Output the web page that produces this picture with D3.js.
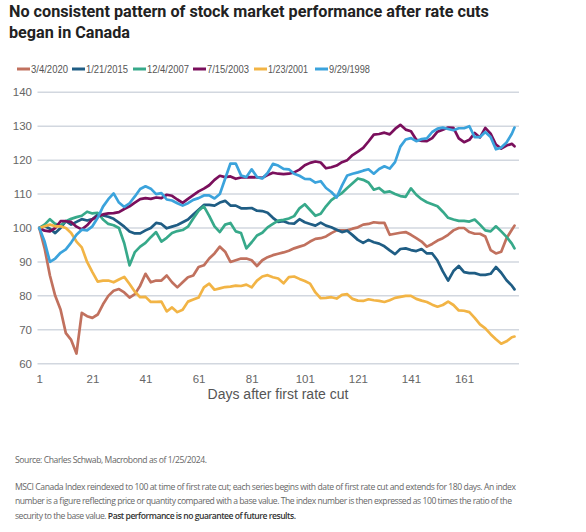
<!DOCTYPE html>
<html>
<head>
<meta charset="utf-8">
<script src="https://cdn.jsdelivr.net/npm/d3@7"></script>
<style>
  body { margin: 0; background: #fff; }
  svg { display: block; }
</style>
</head>
<body>
<div id="chart"></div>
<script>
// index values, every 2nd day from day 1, last point day 180
const days = d3.range(1, 180, 2).concat([180]);

const s2020 = [100, 94, 86, 80, 76, 69, 67, 63, 75, 74,
  73.5, 74.5, 77.5, 80, 81.5, 82, 81, 79.5, 80.5, 83,
  86.5, 84, 84.5, 84.5, 86, 84, 82.5, 84, 85.5, 86,
  88.5, 89, 91, 92.5, 94.5, 93, 90, 90.5, 91, 91,
  90.5, 88.8, 90.5, 91.4, 92, 92.4, 92.8, 93.3, 94, 94.5,
  95, 96, 96.8, 97, 97.5, 98.5, 99.3, 99.3, 99.3, 99.8,
  100.2, 101, 101.2, 101.7, 101.5, 101.5, 98, 98.3, 98.6, 98.8,
  98, 97, 96, 94.5, 95.3, 96.3, 97, 98, 99.3, 100,
  100, 98.8, 98.3, 98.3, 97.5, 93.5, 92.5, 93, 97, 99.5, 100.7];

const s2015 = [100, 100.6, 99.8, 98.5, 100, 102, 101, 101.8, 102.6, 102.2,
  102.6, 104, 103.7, 103.3, 102.7, 101.6, 100.4, 99, 98.4, 98.4,
  99.3, 100, 101.5, 101.2, 99.9, 100.4, 100.9, 101.7, 102.5, 104,
  105.4, 106.8, 106.8, 106.6, 107.5, 108, 106.6, 106.6, 105.8, 105.8,
  105.9, 105.1, 105, 104.5, 103, 101.8, 102, 101.4, 101.3, 102.6,
  101.7, 101.2, 100.7, 101.6, 100.7, 100.2, 99.5, 98.8, 99.2, 97.9,
  96.5, 95.6, 96.5, 95.8, 95.4, 94.6, 93.4, 92.3, 93.8, 94,
  93.5, 93.2, 93.8, 92.5, 92.5, 90.4, 87.2, 84.5, 87.3, 88.8,
  87, 86.7, 86.7, 86.2, 86.2, 86.5, 88.5, 86.8, 84.6, 83, 81.9];

const s2007 = [100, 101, 102.6, 101.2, 100.8, 102, 102.7, 103.2, 103.6, 104.8,
  104.3, 104.5, 102.5, 101.2, 100.8, 100, 95.5, 89, 92.9, 94.5,
  95.6, 97.3, 98.8, 96, 97.1, 98.5, 99.1, 99.4, 100.4, 102.8,
  105.1, 106.4, 103.6, 100.5, 98.8, 101, 101.5, 99, 98.5, 94,
  95.8, 97.8, 98.6, 100.2, 101.2, 102.2, 102.4, 102.8, 103.5, 105.8,
  107, 105.3, 103.6, 104.2, 106.4, 108.2, 109.3, 110.3, 111.8, 113.2,
  114.6, 114.2, 113.4, 111.3, 111.8, 110.5, 110.8, 110, 109.4, 109.2,
  111.7, 109.8, 108.5, 107.6, 107, 106.4, 104.8, 103, 102.5, 102.1,
  102.1, 101.9, 102.5, 101, 99.3, 99, 100.5, 99, 97.4, 95.4, 94];

const s2003 = [100, 99.2, 99, 100, 102, 102, 101.8, 100.4, 99.6, 100.8,
  102.6, 103.4, 104, 104.3, 104.4, 104.7, 105.6, 106.4, 107.5, 108.5,
  108.8, 108.6, 109, 108.8, 109.8, 109.5, 108.4, 107.4, 108.6, 109.7,
  110.8, 111.6, 112.6, 114.2, 115.4, 115, 115.2, 114.5, 114.9, 114.9,
  115, 114.9, 114.8, 115.6, 116.3, 116, 115.9, 116, 116.4, 117.2,
  118.5, 119.2, 119.6, 119.3, 117.6, 117.9, 118.4, 119.4, 120, 121.5,
  122.5, 123.6, 125.5, 127.5, 127.7, 128.1, 127.6, 129.2, 130.4, 129,
  128.5, 126, 125.7, 125.6, 126.5, 128.4, 129, 129.6, 129.5, 126.4,
  125.3, 126, 128, 126.7, 129.5, 127.8, 124.6, 123.4, 124.3, 124.8, 124.1];

const s2001 = [100, 100.5, 101, 100.5, 100.5, 100, 98.5, 96, 94.3, 90,
  87, 84.2, 84.5, 84.5, 84, 84.8, 85.6, 83.5, 81.2, 79.6,
  79.7, 78.2, 78.2, 78.3, 75.4, 76.6, 75.2, 75.9, 78.3, 78.9,
  79.5, 82.5, 83.6, 81.8, 82.2, 82.6, 82.7, 83, 82.9, 83.3,
  82.5, 84.5, 85.7, 86.1, 85.5, 85.1, 83.7, 85.5, 85.7, 85,
  84.4, 83.6, 81, 79.3, 79.4, 79.6, 79.2, 80.3, 80.5, 79.1,
  78.6, 78.5, 79, 78.7, 78.5, 78.2, 78.7, 79.4, 79.7, 80,
  80, 79.1, 78.6, 78.2, 77.4, 76.8, 77.3, 78.3, 77.3, 75.7,
  75.6, 75.2, 73.5, 71.6, 70.4, 68.7, 67.2, 65.9, 66.6, 67.8, 68];

const s1998 = [100, 96, 90, 91, 92.7, 93.7, 95.7, 98, 99.5, 99.3,
  100.5, 103, 106.3, 108.5, 110.2, 107.5, 106.2, 107.3, 109.3, 111.5,
  112.3, 111.6, 110, 110.3, 108.4, 108.1, 107.3, 106.6, 107.3, 108.3,
  108.8, 109.6, 109.6, 108.7, 110, 114.5, 119, 119, 115.5, 115,
  117.3, 115, 114.6, 116.2, 118.9, 118.4, 117.4, 117.3, 116, 115.4,
  114.5, 114.4, 113.4, 113.8, 111.8, 110.6, 109, 112.5, 115.5, 116,
  116.4, 116.9, 117.3, 116, 117.4, 118.2, 117.5, 119.4, 124, 126.1,
  126.5, 125.6, 126.2, 126.4, 128.3, 129.3, 129.6, 129.2, 128.8, 129.4,
  129.4, 130, 126.8, 126.8, 128.3, 126.8, 123.2, 123.7, 125.2, 127.8, 129.6];

const seriesNames = ["3/4/2020", "1/21/2015", "12/4/2007", "7/15/2003", "1/23/2001", "9/29/1998"];
const seriesValues = [s2020, s2015, s2007, s2003, s2001, s1998];
const seriesColors = ["#c1715e", "#1f5d84", "#37a98a", "#7a0f5c", "#f2b445", "#3ba3dc"];

const xTicks = [1, 21, 41, 61, 81, 101, 121, 141, 161];
const yTicks = [60, 70, 80, 90, 100, 110, 120, 130, 140];

const W = 586, H = 532;
const svg = d3.select("#chart").append("svg")
    .attr("width", W).attr("height", H);

//title
const title = svg.append("g")
    .attr("font-family", "Roboto, 'Liberation Sans', sans-serif")
    .attr("font-weight", 700)
    .attr("font-size", 16.2)
    .attr("fill", "#222");
title.append("text").attr("x", 9).attr("y", 17)
    .text("No consistent pattern of stock market performance after rate cuts");
title.append("text").attr("x", 9).attr("y", 37.5)
    .text("began in Canada");

//legend
const legend = svg.append("g")
    .attr("font-family", "'Liberation Sans', Arial, sans-serif")
    .attr("font-size", 11)
    .attr("fill", "#555");
const legendX = [17, 72, 133, 193, 254, 315];
const legendW = [37, 42, 42, 42, 40, 41];
seriesNames.forEach((name, i) => {
    const g = legend.append("g").attr("transform", `translate(${legendX[i]},69)`);
    g.append("line").attr("x1", 0).attr("x2", 13)
        .attr("stroke", seriesColors[i]).attr("stroke-width", 3);
    g.append("text").attr("x", 14).attr("y", 4)
        .attr("textLength", legendW[i])
        .attr("lengthAdjust", "spacingAndGlyphs")
        .text(name);
});

//scales
const x = d3.scaleLinear().domain([1, 180]).range([39.3, 514.5]);
const y = d3.scaleLinear().domain([60, 140]).range([363.7, 92.3]);

//grid
svg.append("g").selectAll("line")
    .data(yTicks)
    .join("line")
        .attr("x1", 37.5).attr("x2", 519)
        .attr("y1", d => y(d)).attr("y2", d => y(d))
        .attr("stroke", "#d2d7df")
        .attr("stroke-width", 1.5);

//axes
const yAxis = svg.append("g")
    .attr("transform", "translate(32,0)")
    .call(d3.axisLeft(y).tickValues(yTicks).tickSize(0).tickPadding(0));
const xAxis = svg.append("g")
    .attr("transform", "translate(0,371)")
    .call(d3.axisBottom(x).tickValues(xTicks).tickSize(0).tickPadding(3.5));
[yAxis, xAxis].forEach(a => {
    a.select(".domain").remove();
    a.selectAll("text")
        .attr("font-family", "'Liberation Sans', Arial, sans-serif")
        .attr("font-size", 11.5)
        .attr("fill", "#666");
});

svg.append("text")
    .attr("x", 278).attr("y", 399)
    .attr("text-anchor", "middle")
    .attr("font-family", "'Liberation Sans', Arial, sans-serif")
    .attr("font-size", 14)
    .attr("fill", "#555")
    .text("Days after first rate cut");

//lines
const line = d3.line()
    .x((d, i) => x(days[i]))
    .y(d => y(d));
svg.append("g").selectAll("path")
    .data(seriesValues)
    .join("path")
        .attr("d", line)
        .attr("fill", "none")
        .attr("stroke", (d, i) => seriesColors[i])
        .attr("stroke-width", 2.7)
        .attr("stroke-linejoin", "round")
        .attr("stroke-linecap", "round");

//footer
const foot = svg.append("g")
    .attr("font-family", "'Open Sans', 'Liberation Sans', sans-serif")
    .attr("font-size", 8.6)
    .attr("fill", "#666");
foot.append("text").attr("x", 15).attr("y", 463).attr("textLength", 192)
    .text("Source: Charles Schwab, Macrobond as of 1/25/2024.");
foot.append("text").attr("x", 15).attr("y", 489.5).attr("textLength", 501)
    .text("MSCI Canada Index reindexed to 100 at time of first rate cut; each series begins with date of first rate cut and extends for 180 days. An index");
foot.append("text").attr("x", 15).attr("y", 504).attr("textLength", 497)
    .text("number is a figure reflecting price or quantity compared with a base value. The index number is then expressed as 100 times the ratio of the");
const last = foot.append("text").attr("x", 15).attr("y", 518.5).attr("textLength", 281);
last.append("tspan").text("security to the base value. ");
last.append("tspan").attr("fill", "#333").attr("font-weight", 600)
    .text("Past performance is no guarantee of future results.");
</script>
</body>
</html>
